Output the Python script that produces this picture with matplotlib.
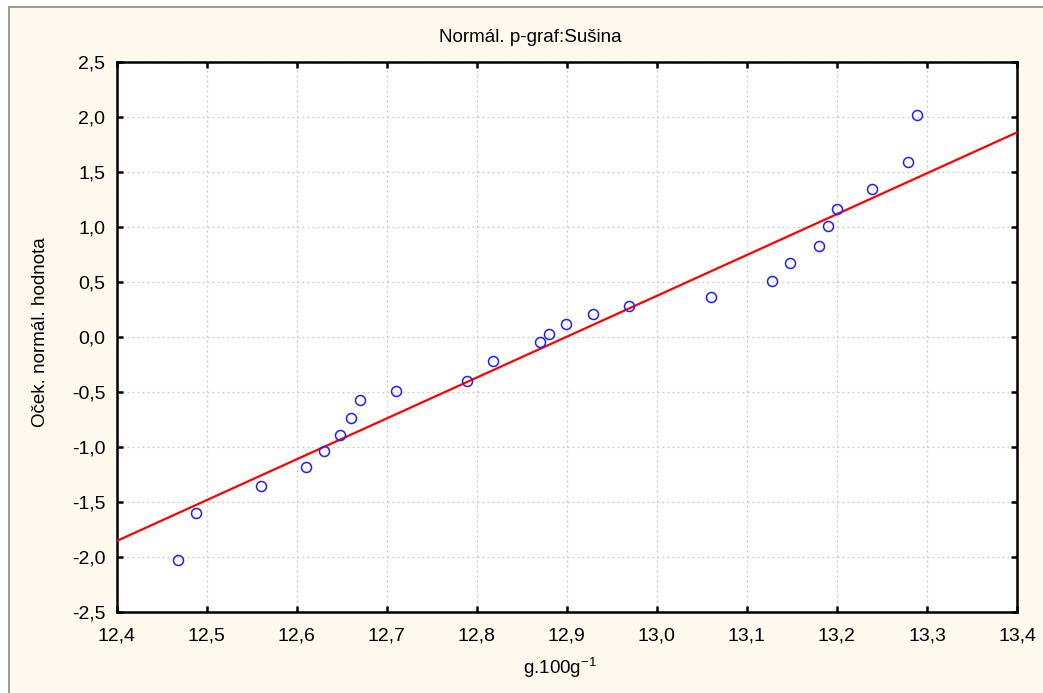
import matplotlib
matplotlib.use('Agg')
from matplotlib import pyplot as plt
from matplotlib.patches import Rectangle

plt.rcParams['font.family'] = ['Liberation Sans', 'DejaVu Sans']

# observed values (g.100g-1) and expected normal values
susina = [12.468, 12.488, 12.56, 12.61, 12.63, 12.648, 12.66, 12.67, 12.71, 12.789,
          12.818, 12.87, 12.88, 12.899, 12.929, 12.969, 13.06, 13.128, 13.148, 13.18,
          13.19, 13.20, 13.239, 13.279, 13.289]
ocek = [-2.03, -1.60, -1.355, -1.18, -1.035, -0.895, -0.735, -0.575, -0.488, -0.397,
        -0.218, -0.043, 0.027, 0.118, 0.206, 0.279, 0.366, 0.509, 0.670, 0.830,
        1.006, 1.166, 1.345, 1.594, 2.018]
# fitted line end points
line_x = [12.4, 13.4]
line_y = [-1.855, 1.86]

xticks = [12.4, 12.5, 12.6, 12.7, 12.8, 12.9, 13.0, 13.1, 13.2, 13.3, 13.4]
yticks = [-2.5, -2.0, -1.5, -1.0, -0.5, 0.0, 0.5, 1.0, 1.5, 2.0, 2.5]

fig = plt.figure(figsize=(10.43, 6.93), dpi=100, facecolor='white')
fig.patches.append(Rectangle((9 / 1043, -0.05), 1.1, 1.05 - 7 / 693, transform=fig.transFigure,
                             facecolor='#fef9ee', edgecolor='#8a8a8a', linewidth=1.2,
                             zorder=-1))
ax = fig.add_axes([116.5 / 1043, 1 - 612 / 693, 900.5 / 1043, 550 / 693])
ax.set_facecolor('white')

ax.plot(line_x, line_y, '-', color='#ff0000', linewidth=1.6, zorder=3)
ax.plot(susina, ocek, 'o', markerfacecolor='none', markeredgecolor='#1f1fff',
        markersize=7.2, markeredgewidth=1.1, zorder=4)

ax.set_xlim(12.4, 13.4)
ax.set_ylim(-2.5, 2.5)
ax.set_xticks(xticks)
ax.set_yticks(yticks)
ax.set_xticklabels([('%.1f' % v).replace('.', ',') for v in xticks])
ax.set_yticklabels([('%.1f' % v).replace('.', ',') for v in yticks])
ax.tick_params(direction='in', length=4, width=1.8, labelsize=14, pad=8,
               top=True, right=True, colors='black')
ax.tick_params(axis='x', pad=11)
for s in ax.spines.values():
    s.set_linewidth(1.8)
ax.grid(True, color='#c8c8c8', linestyle=(0, (1.5, 2.5)), linewidth=0.9)

fig.text(530 / 1043, 1 - 38 / 693, 'Normál. p-graf:Sušina', fontsize=13.5,
         ha='center', va='center')
ax.set_ylabel('Oček. normál. hodnota', fontsize=13.5)
ax.yaxis.set_label_coords(-0.075, 0.509)
ax.set_xlabel('g.100g$^{\\mathregular{-1}}$', fontsize=13.5)
ax.xaxis.set_label_coords(0.4925, -0.078)

plt.savefig('out.png', dpi=100)
